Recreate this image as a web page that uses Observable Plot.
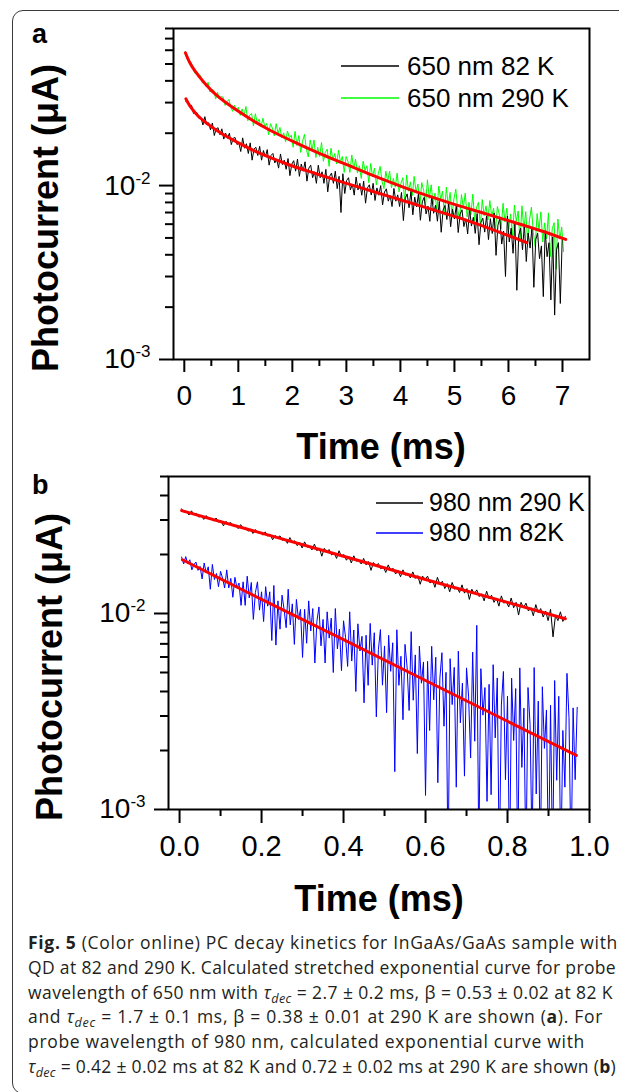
<!DOCTYPE html>
<html><head><meta charset="utf-8">
<script src="https://cdn.jsdelivr.net/npm/d3@7"></script>
<script src="https://cdn.jsdelivr.net/npm/@observablehq/plot@0.6"></script>
<style>
html,body{margin:0;padding:0;background:#fff;}
body{width:619px;height:1092px;overflow:hidden;position:relative;font-family:"Liberation Sans",Arial,sans-serif;}
#border{position:absolute;left:12px;top:10px;width:680px;height:1084px;border:1.5px solid #3a3a3a;border-radius:11px;box-sizing:border-box;}
.panel{position:absolute;left:0;}
#overlay{position:absolute;left:0;top:0;pointer-events:none;}
#cap{position:absolute;left:28px;top:930px;font-family:"Open Sans",sans-serif;font-size:17.5px;line-height:24.8px;color:#231f20;white-space:nowrap;}
#cap .ln{display:inline-block;}
#cap sub{font-size:0.72em;vertical-align:-0.28em;line-height:0;}
</style></head>
<body>
<div id="border"></div>
<div id="pa" class="panel" style="top:0"></div>
<div id="pb" class="panel" style="top:470px"></div>
<svg id="overlay" width="619" height="1092" font-family="Liberation Sans, Arial, sans-serif">
  <text x="32" y="43" font-size="27" font-weight="bold">a</text>
  <text x="32" y="494" font-size="27" font-weight="bold">b</text>
  <text x="58" y="218" font-size="36" font-weight="bold" text-anchor="middle" transform="rotate(-90 58 218)">Photocurrent (μA)</text>
  <text x="62" y="667" font-size="36" font-weight="bold" text-anchor="middle" transform="rotate(-90 62 667)">Photocurrent (μA)</text>
  <text x="381" y="459" font-size="36" font-weight="bold" text-anchor="middle">Time (ms)</text>
  <text x="379" y="911" font-size="36" font-weight="bold" text-anchor="middle">Time (ms)</text>
  <line x1="341" y1="66" x2="399" y2="66" stroke="#000" stroke-width="1.5"/>
  <text x="407" y="75" font-size="26">650 nm 82 K</text>
  <line x1="341" y1="98" x2="399" y2="98" stroke="#00ff00" stroke-width="1.5"/>
  <text x="407" y="107" font-size="26">650 nm 290 K</text>
  <line x1="376" y1="503" x2="423" y2="503" stroke="#000" stroke-width="1.5"/>
  <text x="429" y="511" font-size="25">980 nm 290 K</text>
  <line x1="376" y1="533" x2="423" y2="533" stroke="#0000ff" stroke-width="1.5"/>
  <text x="429" y="541" font-size="25">980 nm 82K</text>
</svg>
<div id="cap">
<div><span class="ln" data-w="590"><b>Fig. 5</b> (Color online) PC decay kinetics for InGaAs/GaAs sample with</span></div>
<div><span class="ln" data-w="588">QD at 82 and 290 K. Calculated stretched exponential curve for probe</span></div>
<div><span class="ln" data-w="585">wavelength of 650 nm with <i>τ</i><sub><i>dec</i></sub> = 2.7 ± 0.2 ms, β = 0.53 ± 0.02 at 82 K</span></div>
<div><span class="ln" data-w="575">and <i>τ</i><sub><i>dec</i></sub> = 1.7 ± 0.1 ms, β = 0.38 ± 0.01 at 290 K are shown (<b>a</b>). For</span></div>
<div><span class="ln" data-w="557">probe wavelength of 980 nm, calculated exponential curve with</span></div>
<div><span class="ln" data-w="588"><i>τ</i><sub><i>dec</i></sub> = 0.42 ± 0.02 ms at 82 K and 0.72 ± 0.02 ms at 290 K are shown (<b>b</b>)</span></div>
</div>
<script>
// ---- Panel a data (photocurrent in units of 1e-3 μA, time in ms) ----
const green290_t0 = 0.02, green290_dt = 0.035;
const green290 = [
59.0,53.3,52.1,51.1,47.1,44.3,45.3,42.8,42.9,38.8,
39.8,36.9,39.3,34.5,35.5,35.4,31.5,34.4,31.6,32.5,
32.2,28.9,30.4,31.3,28.2,26.7,29.0,26.9,28.2,25.3,
27.6,25.1,28.5,23.6,25.4,26.0,22.0,25.9,22.9,24.1,
21.7,24.4,21.7,22.8,19.6,22.7,21.4,19.3,22.7,19.9,
21.6,18.8,20.1,17.8,20.6,18.8,19.5,16.6,20.5,17.0,
19.4,15.5,18.0,19.7,16.2,14.6,18.3,16.0,18.3,14.5,
16.6,14.7,17.7,13.8,15.5,16.2,12.9,16.4,14.0,15.3,
13.3,16.0,13.6,14.7,11.9,14.7,13.7,11.9,15.0,12.5,
14.2,11.8,13.0,11.0,13.8,12.2,13.0,10.4,13.4,11.2,
12.6,10.1,11.7,12.9,10.6,9.6,12.1,10.6,12.1,9.7,
11.0,9.8,11.8,9.2,10.3,11.1,8.08,11.5,9.28,10.5,
8.75,11.3,9.15,10.2,7.54,10.4,9.37,7.69,10.8,8.42,
10.1,7.78,9.07,7.16,9.94,8.36,9.29,6.76,9.78,7.62,
9.14,6.70,8.37,9.54,7.32,6.35,8.88,7.46,9.05,6.61,
8.03,6.80,8.93,6.26,7.51,8.01,5.83,8.31,6.72,7.64,
6.35,8.20,6.66,7.41,5.50,7.57,6.86,5.64,7.91,6.19,
7.41,5.61,6.87,5.04,7.72,6.24,7.14,4.74,7.65,5.59,
7.08,4.75,6.37,7.51,5.38,4.46,6.90,5.54,7.06,4.74,
6.10,4.94,6.97,3.9,5.64,6.12,3.3,6.42,4.92,5.78,
4.17];
const black82_t0 = 0.03, black82_dt = 0.035;
const black82 = [
30.5,30.7,28.6,28.9,26.0,26.5,26.1,24.3,24.4,22.3,
24.9,22.3,23.0,20.9,22.9,19.4,21.2,21.5,19.6,21.2,
18.5,20.0,18.7,20.0,17.2,18.7,18.9,17.2,17.6,15.7,
18.8,16.4,17.4,15.3,17.6,14.0,16.2,16.6,14.9,16.8,
14.0,15.9,14.6,16.1,13.1,14.9,15.3,13.5,14.2,12.6,
15.2,13.2,14.0,12.4,14.3,11.4,13.3,13.9,12.1,14.2,
11.3,13.3,12.1,13.7,10.6,12.6,13.1,11.1,12.0,10.3,
13.1,11.1,12.0,10.3,12.4,9.2,11.3,11.8,10.3,12.1,
9.6,11.3,7.0,11.7,9.0,10.7,11.1,9.44,10.2,8.81,
11.2,9.44,10.3,8.8,10.6,7.92,9.70,10.1,8.82,10.3,
8.21,9.69,8.80,10.0,7.74,9.18,9.58,8.14,8.76,7.58,
9.63,8.13,8.84,7.58,9.13,6.29,8.44,8.96,7.46,9.27,
6.79,8.58,7.54,9.02,6.32,8.06,8.56,6.87,7.62,6.23,
8.72,6.93,7.71,6.24,8.11,5.39,7.23,7.68,6.38,7.92,
5.80,7.31,6.42,7.68,5.37,6.85,7.26,5.81,6.45,5.27,
7.36,5.85,6.57,5.31,6.90,4.57,6.13,6.50,5.40,6.69,
4.89,6.45,5.30,6.96,3.97,5.92,6.47,4.61,5.47,3.0,
6.68,4.74,5.69,4.08,6.14,2.5,5.20,5.69,4.28,5.97,
3.66,5.34,4.37,5.75,2.6,4.88,5.33,3.80,4.50,2.3,
5.50,3.90,4.69,2.2,5.07,1.8,4.29,4.70,2.1,4.95];
// fitted stretched exponentials: [time ms, value 1e-3 μA]
const fitA290 = [[0.02,58],[0.1,51],[0.2,45.5],[0.39,38.4],[0.6,33],[0.98,27],[1.5,21.5],[2.0,18.0],[2.5,15.3],[2.95,13.4],[3.5,11.4],[4.05,9.8],[4.5,8.75],[5.0,7.8],[5.5,7.0],[6.1,6.15],[6.6,5.5],[7.06,4.9]];
const fitA82 = [[0.03,31.5],[0.1,28.8],[0.25,25.2],[0.45,22.4],[0.69,19.9],[1.0,17.6],[1.34,15.6],[1.9,13.3],[2.44,11.7],[3.0,10.3],[3.54,9.15],[4.1,8.1],[4.64,7.2],[5.2,6.35],[5.73,5.55],[6.34,4.7]];

// ---- Panel b data ----
const black290_t0 = 0.005, black290_dt = 0.006;
const black290 = [
34.2,32.8,33.2,31.8,33.4,32.0,32.4,31.0,31.7,30.2,
31.6,30.4,30.5,29.6,30.7,29.3,29.8,28.0,29.5,28.7,
29.1,27.9,28.2,27.1,28.4,27.2,27.5,26.3,26.9,25.6,
26.8,25.8,25.9,25.1,26.1,24.8,25.3,23.8,25.0,24.3,
24.9,23.6,24.0,22.8,24.4,23.1,23.5,22.2,23.0,21.6,
23.2,21.8,22.0,21.1,22.6,20.9,21.6,19.6,21.5,20.6,
21.2,19.9,20.4,19.1,20.9,19.5,20.0,18.7,19.5,18.1,
19.7,18.5,18.7,17.9,19.1,17.7,18.4,16.6,18.2,17.5,
18.0,16.9,17.3,16.2,17.7,16.6,17.0,15.9,16.6,15.4,
16.7,15.7,15.9,15.2,16.3,15.1,15.6,14.1,15.5,14.9,
15.5,14.3,14.8,13.6,15.3,14.1,14.6,13.4,14.2,12.9,
14.4,13.3,13.6,12.8,14.0,12.7,13.4,11.8,13.3,12.6,
13.2,12.2,12.6,11.6,13.0,11.9,12.4,11.4,12.0,10.9,
12.3,11.3,11.5,10.8,12.0,10.7,11.4,9.82,11.4,10.7,
11.3,10.3,10.7,9.74,11.1,10.1,10.6,9.59,10.3,9.20,
10.5,7.6,9.78,9.20,10.2,9.11,9.68];
const blue82_t0 = 0.005, blue82_dt = 0.005;
const blue82 = [
19.4,17.9,19.5,18.0,18.8,16.7,17.8,18.3,16.6,17.4,
15.0,18.1,16.1,17.3,13.3,17.8,14.9,16.0,13.7,16.4,
15.1,13.5,16.7,13.5,15.1,12.1,15.3,13.5,14.3,11.0,
14.5,11.0,15.5,12.0,14.4,9.33,12.8,14.5,10.4,12.9,
9.1,13.7,10.9,12.9,7.28,13.9,6.9,11.6,8.32,12.4,
10.5,8.46,13.3,8.75,11.2,6.96,11.8,9.32,10.5,5.97,
10.5,7.05,11.6,8.14,10.6,5.59,9.13,10.8,6.84,9.33,
5.59,10.2,7.49,9.47,5.0,10.6,6.60,8.33,5.11,9.18,
7.53,5.37,10.2,5.72,8.24,4.0,8.86,6.44,7.65,3.5,
7.75,4.30,8.90,5.45,7.98,2.97,6.53,8.28,4.31,6.83,
3.12,7.74,5.07,7.09,1.56,8.26,4.30,6.05,2.87,6.96,
5.34,3.20,8.08,3.61,6.15,1.93,6.81,4.41,5.66,1.18,
5.70,2.53,6.80,3.63,5.98,1.37,4.68,6.31,2.66,5.01,
0.5,5.88,3.43,5.31,1.3,6.42,2.77,4.41,1.48,5.28,
3.79,1.83,6.35,2.23,8.7,0.6,5.23,3.03,4.19,1.1,
4.35,1.19,5.48,2.32,4.69,0.5,3.41,5.06,1.42,3.79,
0.5,4.68,2.25,4.14,0.5,5.28,1.64,3.29,0.5,4.19,
2.72,0.6,5.30,1.20,3.57,0.5,4.23,2.05,3.22,0.5,
3.40,0.5,4.55,1.41,3.78,0.5,2.53,1.3,4.95,2.94,
0.5,3.3,1.42,3.32];
const fitB290 = [[0.005,33.5],[0.2,25.7],[0.4,19.6],[0.6,14.9],[0.8,11.4],[0.941,9.4]];
const fitB82 = [[0.007,18.8],[0.2,11.8],[0.4,7.35],[0.6,4.55],[0.8,2.82],[0.968,1.89]];

// ---- tick values ----
const xMajorA = [0,1,2,3,4,5,6,7];
const xMinorA = [0.5,1.5,2.5,3.5,4.5,5.5,6.5];
const xMajorB = [0,0.2,0.4,0.6,0.8,1.0];
const xMinorB = [0.1,0.3,0.5,0.7,0.9];
const yMajor = [1e-3, 1e-2];
const yMinorA = [2e-3,3e-3,4e-3,5e-3,6e-3,7e-3,8e-3,9e-3,2e-2,3e-2,4e-2,5e-2,6e-2,7e-2,8e-2];
const yMinorB = [2e-3,3e-3,4e-3,5e-3,6e-3,7e-3,8e-3,9e-3,2e-2,3e-2,4e-2,5e-2];

const SCALE = 1e-3;
const series = (vals, t0, dt) => vals.map((v, i) => ({t: t0 + i * dt, v: v * SCALE}));
const fit = (pairs) => pairs.map(([t, v]) => ({t, v: v * SCALE}));
const powFmt = d => "10^" + Math.round(Math.log10(d));
const blank = () => "";
const svgStyle = {fontFamily: "'Liberation Sans', Arial, sans-serif", fontSize: "28px", color: "#000", background: "transparent", overflow: "visible"};

function superscripts(svg) {
  const NS = "http://www.w3.org/2000/svg";
  svg.querySelectorAll("text").forEach(t => {
    const s = t.textContent;
    if (!s.includes("^")) return;
    const [b, e] = s.split("^");
    t.textContent = "";
    const t1 = document.createElementNS(NS, "tspan"); t1.textContent = b; t.appendChild(t1);
    const t2 = document.createElementNS(NS, "tspan"); t2.textContent = e;
    t2.setAttribute("dy", "-11"); t2.setAttribute("font-size", "17"); t.appendChild(t2);
  });
  return svg;
}

const plotA = Plot.plot({
  width: 619, height: 470,
  marginTop: 28, marginRight: 30, marginBottom: 111, marginLeft: 173,
  style: svgStyle,
  x: {domain: [-0.2, 7.5]},
  y: {type: "log", domain: [1e-3, 0.08]},
  marks: [
    Plot.line(series(green290, green290_t0, green290_dt), {x: "t", y: "v", stroke: "#00ff00", strokeWidth: 1, clip: true}),
    Plot.line(series(black82, black82_t0, black82_dt), {x: "t", y: "v", stroke: "#000000", strokeWidth: 1, clip: true}),
    Plot.line(fit(fitA290), {x: "t", y: "v", stroke: "#ff0000", strokeWidth: 3, curve: "catmull-rom"}),
    Plot.line(fit(fitA82), {x: "t", y: "v", stroke: "#ff0000", strokeWidth: 3, curve: "catmull-rom"}),
    Plot.frame({stroke: "#000", strokeWidth: 2}),
    Plot.axisX({ticks: xMajorA, tickSize: 13, tickPadding: 13, strokeWidth: 2, tickFormat: d => String(d), label: null}),
    Plot.axisX({ticks: xMinorA, tickSize: 7, strokeWidth: 2, tickFormat: blank, label: null}),
    Plot.axisY({ticks: yMajor, tickSize: 14, tickPadding: 9, strokeWidth: 2, tickFormat: powFmt, label: null}),
    Plot.axisY({ticks: yMinorA, tickSize: 8, strokeWidth: 2, tickFormat: blank, label: null})
  ]
});
document.getElementById("pa").appendChild(superscripts(plotA));

const plotB = Plot.plot({
  width: 619, height: 470,
  marginTop: 6, marginRight: 30, marginBottom: 131, marginLeft: 168,
  style: svgStyle,
  x: {domain: [-0.027, 1.0]},
  y: {type: "log", domain: [1e-3, 0.05]},
  marks: [
    Plot.line(series(black290, black290_t0, black290_dt), {x: "t", y: "v", stroke: "#000000", strokeWidth: 1, clip: true}),
    Plot.line(series(blue82, blue82_t0, blue82_dt), {x: "t", y: "v", stroke: "#0000ff", strokeWidth: 1, clip: true}),
    Plot.line(fit(fitB290), {x: "t", y: "v", stroke: "#ff0000", strokeWidth: 3}),
    Plot.line(fit(fitB82), {x: "t", y: "v", stroke: "#ff0000", strokeWidth: 3}),
    Plot.frame({stroke: "#000", strokeWidth: 2}),
    Plot.axisX({ticks: xMajorB, tickSize: 14, tickPadding: 12, strokeWidth: 2, fontSize: 29, tickFormat: d => d.toFixed(1), label: null}),
    Plot.axisX({ticks: xMinorB, tickSize: 7, strokeWidth: 2, tickFormat: blank, label: null}),
    Plot.axisY({ticks: yMajor, tickSize: 14, tickPadding: 9, strokeWidth: 2, tickFormat: powFmt, label: null}),
    Plot.axisY({ticks: yMinorB, tickSize: 8, strokeWidth: 2, tickFormat: blank, label: null})
  ]
});
document.getElementById("pb").appendChild(superscripts(plotB));

// fit each caption line to the width it has in the reference
function fitCaption() {
  document.querySelectorAll("#cap .ln").forEach(el => {
    el.style.letterSpacing = "0px";
    const w = el.getBoundingClientRect().width;
    const n = el.textContent.length;
    const target = +el.dataset.w;
    el.style.letterSpacing = ((target - w) / n).toFixed(3) + "px";
  });
}
fitCaption();
if (document.fonts && document.fonts.ready) document.fonts.ready.then(fitCaption);
</script>
</body></html>
